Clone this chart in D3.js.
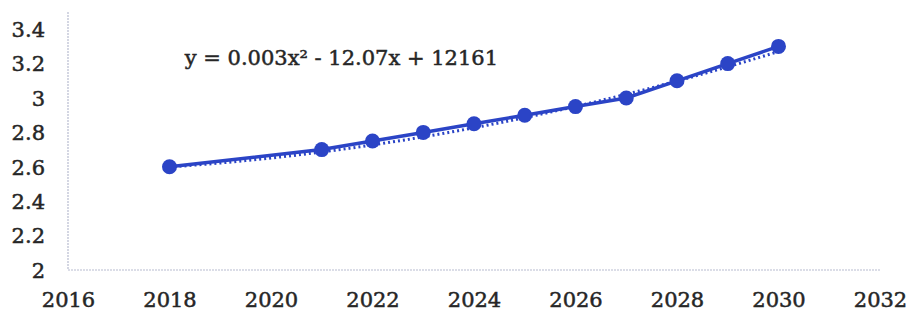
<!DOCTYPE html>
<html>
<head>
<meta charset="utf-8">
<script src="https://cdn.jsdelivr.net/npm/d3@7"></script>
<style>
  body { margin: 0; background: #fff; }
  text { font-family: "DejaVu Serif", serif; fill: #262626; stroke: #262626; stroke-width: 0.5px; }
</style>
</head>
<body>
<div class="chartDiv"></div>
<script>
// data
let years = [2018, 2021, 2022, 2023, 2024, 2025, 2026, 2027, 2028, 2029, 2030];
let values = [2.6, 2.7, 2.75, 2.8, 2.85, 2.9, 2.95, 3.0, 3.1, 3.2, 3.3];
let xTicks = [2016, 2018, 2020, 2022, 2024, 2026, 2028, 2030, 2032];
let yTicks = [2, 2.2, 2.4, 2.6, 2.8, 3, 3.2, 3.4];
let equation = "y = 0.003x² - 12.07x + 12161";

let svgWidth = 908, svgHeight = 312;
let margin = { top: 12, right: 28, bottom: 42, left: 68 };
let graphWidth = svgWidth - margin.left - margin.right;
let graphHeight = svgHeight - margin.top - margin.bottom;

let svg = d3.select('.chartDiv').append('svg')
  .attr('width', svgWidth).attr('height', svgHeight);

let chartGroup = svg.append('g')
  .attr('transform', `translate(${margin.left}, ${margin.top})`);

let xScale = d3.scaleLinear().domain([2016, 2032]).range([0, graphWidth]);
let yScale = d3.scaleLinear().domain([2, 3.5]).range([graphHeight, 0]);

// axes as faint dotted lines
chartGroup.append('line')
  .attr('x1', 0).attr('x2', 0).attr('y1', 0).attr('y2', graphHeight)
  .attr('stroke', '#b8bcd0').attr('stroke-width', 1.2).attr('stroke-dasharray', '2,1');
chartGroup.append('line')
  .attr('x1', 0).attr('x2', graphWidth).attr('y1', graphHeight).attr('y2', graphHeight)
  .attr('stroke', '#b8bcd0').attr('stroke-width', 1.2).attr('stroke-dasharray', '2,1');

let leftAxis = d3.axisLeft(yScale).tickValues(yTicks).tickSize(0).tickPadding(23)
  .tickFormat(d => d3.format('')(+d.toFixed(1)));
let bottomAxis = d3.axisBottom(xScale).tickValues(xTicks).tickSize(0).tickPadding(22)
  .tickFormat(d3.format('d'));

let ly = chartGroup.append('g').call(leftAxis);
ly.select('.domain').remove();
ly.selectAll('text').style('font-size', '21px').attr('dy', '0.35em');

let bx = chartGroup.append('g').attr('transform', `translate(0, ${graphHeight})`).call(bottomAxis);
bx.select('.domain').remove();
bx.selectAll('text').style('font-size', '21px');

// quadratic least-squares trendline (like the spreadsheet's)
let x0 = 2024;
let sums = { n: 0, x: 0, x2: 0, x3: 0, x4: 0, y: 0, xy: 0, x2y: 0 };
years.forEach((yr, i) => {
  let t = yr - x0, v = values[i];
  sums.n++; sums.x += t; sums.x2 += t * t; sums.x3 += t ** 3; sums.x4 += t ** 4;
  sums.y += v; sums.xy += t * v; sums.x2y += t * t * v;
});
let M = [[sums.n, sums.x, sums.x2, sums.y], [sums.x, sums.x2, sums.x3, sums.xy], [sums.x2, sums.x3, sums.x4, sums.x2y]];
for (let i = 0; i < 3; i++) {
  for (let k = i + 1; k < 3; k++) {
    let f = M[k][i] / M[i][i];
    for (let j = i; j < 4; j++) M[k][j] -= f * M[i][j];
  }
}
let coef = [0, 0, 0];
for (let i = 2; i >= 0; i--) {
  let s = M[i][3];
  for (let j = i + 1; j < 3; j++) s -= M[i][j] * coef[j];
  coef[i] = s / M[i][i];
}
let trendYears = d3.range(2018, 2030.01, 0.25);
let trend = trendYears.map(yr => { let t = yr - x0; return { x: yr, y: coef[0] + coef[1] * t + coef[2] * t * t }; });

let blue = '#2b44c6';

chartGroup.append('path')
  .datum(trend)
  .attr('d', d3.line().x(d => xScale(d.x)).y(d => yScale(d.y)))
  .attr('fill', 'none').attr('stroke', blue).attr('stroke-width', 3)
  .attr('stroke-dasharray', '2,3').attr('transform', 'translate(0,2)');

let pts = years.map((yr, i) => ({ x: yr, y: values[i] }));
chartGroup.append('path')
  .datum(pts)
  .attr('d', d3.line().x(d => xScale(d.x)).y(d => yScale(d.y)))
  .attr('fill', 'none').attr('stroke', blue).attr('stroke-width', 3.5);

chartGroup.selectAll('circle').data(pts).enter().append('circle')
  .attr('cx', d => xScale(d.x)).attr('cy', d => yScale(d.y)).attr('r', 7.5)
  .attr('fill', blue);

chartGroup.append('text')
  .attr('x', xScale(2018.3)).attr('y', yScale(3.2) + 1)
  .style('font-size', '21px')
  .text(equation);
</script>
</body>
</html>
